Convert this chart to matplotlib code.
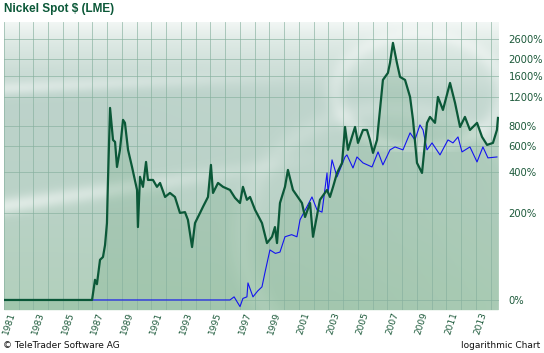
import numpy as np
import matplotlib
matplotlib.use("Agg")
import matplotlib.pyplot as plt
from matplotlib.colors import to_rgb
from matplotlib.ticker import FixedLocator, NullLocator
from matplotlib.transforms import ScaledTranslation

# nickel spot, performance in % (green)
nickel_years = [1981.0, 1986.97, 1987.17, 1987.3, 1987.51, 1987.71, 1987.85, 1987.98, 1988.05,
                1988.19, 1988.39, 1988.53, 1988.66, 1988.86, 1989.07, 1989.2, 1989.41, 1989.68,
                1990.02, 1990.08, 1990.22, 1990.42, 1990.63, 1990.76, 1991.1, 1991.37, 1991.58,
                1991.92, 1992.25, 1992.59, 1992.93, 1993.27, 1993.47, 1993.75, 1993.95, 1994.29,
                1994.49, 1994.83, 1995.03, 1995.17, 1995.51, 1995.85, 1996.32, 1996.66, 1997.0,
                1997.2, 1997.47, 1997.68, 1998.02, 1998.49, 1998.83, 1999.17, 1999.37, 1999.51,
                1999.71, 2000.05, 2000.25, 2000.59, 2001.2, 2001.41, 2001.75, 2001.95, 2002.42,
                2002.9, 2003.1, 2003.31, 2003.58, 2003.92, 2004.12, 2004.32, 2004.59, 2004.8,
                2005.0, 2005.34, 2005.61, 2005.81, 2006.02, 2006.29, 2006.49, 2006.69, 2007.03,
                2007.17, 2007.37, 2007.64, 2007.85, 2008.19, 2008.53, 2008.73, 2009.0, 2009.34,
                2009.68, 2009.88, 2010.22, 2010.42, 2010.76, 2011.24, 2011.58, 2011.92, 2012.25,
                2012.59, 2013.07, 2013.41, 2013.75, 2014.15, 2014.42, 2014.49]
nickel_pct = [0, 0, 29, 22, 66, 72, 100, 164, 355,
              1029, 654, 635, 436, 565, 871, 835, 565, 436,
              301, 151, 373, 317, 471, 355, 355, 317, 338,
              267, 286, 267, 200, 203, 175, 95, 164, 200,
              224, 267, 450, 286, 338, 317, 301, 263, 240,
              317, 254, 267, 212, 164, 105, 122, 151, 105,
              240, 317, 416, 301, 240, 185, 240, 122, 254,
              301, 267, 317, 397, 464, 788, 565, 683, 788,
              626, 755, 755, 654, 540, 654, 1001, 1508, 1657,
              1893, 2466, 1893, 1570, 1508, 1197, 871, 464, 397,
              835, 908, 835, 1197, 1001, 1448, 1103, 788, 908,
              755, 835, 683, 608, 626, 755, 895]

# comparison series (blue)
blue_years = [1981.0, 1996.32, 1996.6, 1997.0, 1997.2, 1997.47, 1997.54, 1997.88, 1998.2,
              1998.49, 1998.69, 1999.03, 1999.4, 1999.71, 2000.05, 2000.5, 2000.86, 2001.07,
              2001.5, 2001.88, 2002.22, 2002.56, 2002.9, 2002.97, 2003.24, 2003.58, 2004.12,
              2004.25, 2004.66, 2004.93, 2005.34, 2005.95, 2006.36, 2006.69, 2007.17, 2007.51,
              2008.05, 2008.53, 2008.86, 2009.2, 2009.41, 2009.68, 2010.02, 2010.56, 2011.1,
              2011.44, 2011.78, 2012.05, 2012.59, 2013.07, 2013.47, 2013.81, 2014.42]
blue_pct = [0, 0, 4, -8, 2, 4, 24, 4, 12,
            18, 41, 88, 80, 83, 122, 128, 122, 175,
            220, 267, 212, 203, 397, 286, 486, 373, 508,
            524, 429, 508, 464, 436, 548, 450, 565, 590,
            565, 724, 654, 811, 755, 565, 626, 524, 654,
            626, 683, 548, 590, 471, 590, 501, 508]

ytick_pct = [0, 200, 400, 600, 800, 1200, 1600, 2000, 2600]
xtick_years = list(range(1981, 2014, 2))

W, H = 544, 353
left, right, top, bottom = 4, 499, 22, 310
ymin, ymax = 0.881, 33.4
xmin, xmax = 1981.0, 2014.56


def ratio(p):
    return 1 + np.asarray(p, dtype=float) / 100.0


def make_background(h, w):
    v = np.linspace(0, 1, h)[:, None] * np.ones((1, w))
    u = np.ones((h, 1)) * np.linspace(0, 1, w)[None, :]
    stops = [0, 0.07, 0.25, 0.6, 1.0]
    cols = np.array([to_rgb(c) for c in ["#f1f6f4", "#dde9e4", "#bdd3cb", "#bad2c7", "#b2d0bc"]])
    img = np.zeros((h, w, 3))
    for k in range(3):
        img[..., k] = np.interp(v, stops, cols[:, k])
    light = np.zeros((h, w))
    # bright streaks
    vc1 = 0.23 - 0.08 * u
    light += 0.45 * np.exp(-((v - vc1) / 0.025) ** 2) * np.clip(1 - 1.6 * u, 0, 1)
    vc2 = 0.64 - 0.26 * u
    light += 0.55 * np.exp(-((v - vc2) / 0.03) ** 2) * np.clip(1 - 1.5 * u, 0, 1)
    # swirl
    r = np.sqrt(((u - 0.84) / 0.17) ** 2 + ((v - 0.24) / 0.2) ** 2)
    light += 0.3 * np.exp(-((r - 1) / 0.12) ** 2) * (v < 0.45)
    r2 = np.sqrt(((u - 0.78) / 0.3) ** 2 + ((v - 0.75) / 0.45) ** 2)
    light += 0.15 * np.exp(-((r2 - 1) / 0.08) ** 2)
    light += 0.12 * u ** 3
    light = np.clip(light, 0, 1)[..., None]
    return img + (1 - img) * light


fig = plt.figure(figsize=(W / 100, H / 100), dpi=100)
rect = [left / W, 1 - bottom / H, (right - left) / W, (bottom - top) / H]

bg = fig.add_axes(rect, zorder=1)
bg.imshow(make_background(bottom - top, right - left), aspect="auto", extent=[0, 1, 0, 1])
bg.axis("off")

ax = fig.add_axes(rect, zorder=2)
ax.set_facecolor("none")
ax.set_yscale("log")
ax.set_xlim(xmin, xmax)
ax.set_ylim(ymin, ymax)

ny = ratio(nickel_pct)
ax.fill_between(nickel_years, ny, ymin, color="#5f9e72", alpha=0.2, lw=0, zorder=1)
ax.plot(blue_years, ratio(blue_pct), color="#1414f0", lw=0.8, zorder=3)
ax.plot(nickel_years, ny, color="#0b5838", lw=1.6, zorder=4, solid_joinstyle="round")

ax.yaxis.set_major_locator(FixedLocator(ratio(ytick_pct)))
ax.yaxis.set_minor_locator(NullLocator())
ax.set_yticklabels([f"{p}%" for p in ytick_pct])
ax.yaxis.tick_right()
ax.tick_params(axis="y", length=0, pad=7, labelsize=7.2, labelcolor="#1d5a3b")

ax.set_xticks(xtick_years)
ax.set_xticks(range(1981, 2015), minor=True)
ax.set_xticklabels([str(y) for y in xtick_years], rotation=72, ha="center", va="top")
ax.tick_params(axis="x", which="both", length=0, pad=1, labelsize=6.5, labelcolor="#1d5a3b")
shift = ScaledTranslation(5 / 100, 0, fig.dpi_scale_trans)
for lab in ax.get_xticklabels():
    lab.set_transform(lab.get_transform() + shift)

ax.grid(True, which="both", axis="x", color="#86b09e", lw=0.6, alpha=0.75)
ax.grid(True, which="major", axis="y", color="#86b09e", lw=0.6, alpha=0.75)
for s in ax.spines.values():
    s.set_visible(False)

fig.text(4 / W, 1 - 3 / H, "Nickel Spot $ (LME)", fontsize=8.5, fontweight="bold",
         family="Liberation Sans", color="#0b5838", ha="left", va="top")
fig.text(3 / W, 1 - 346 / H, "\u00a9 TeleTrader Software AG", fontsize=6.5,
         color="#111111", ha="left", va="center")
fig.text(540 / W, 1 - 346 / H, "logarithmic Chart", fontsize=6.5,
         color="#111111", ha="right", va="center")

fig.savefig("out.png", dpi=100)
